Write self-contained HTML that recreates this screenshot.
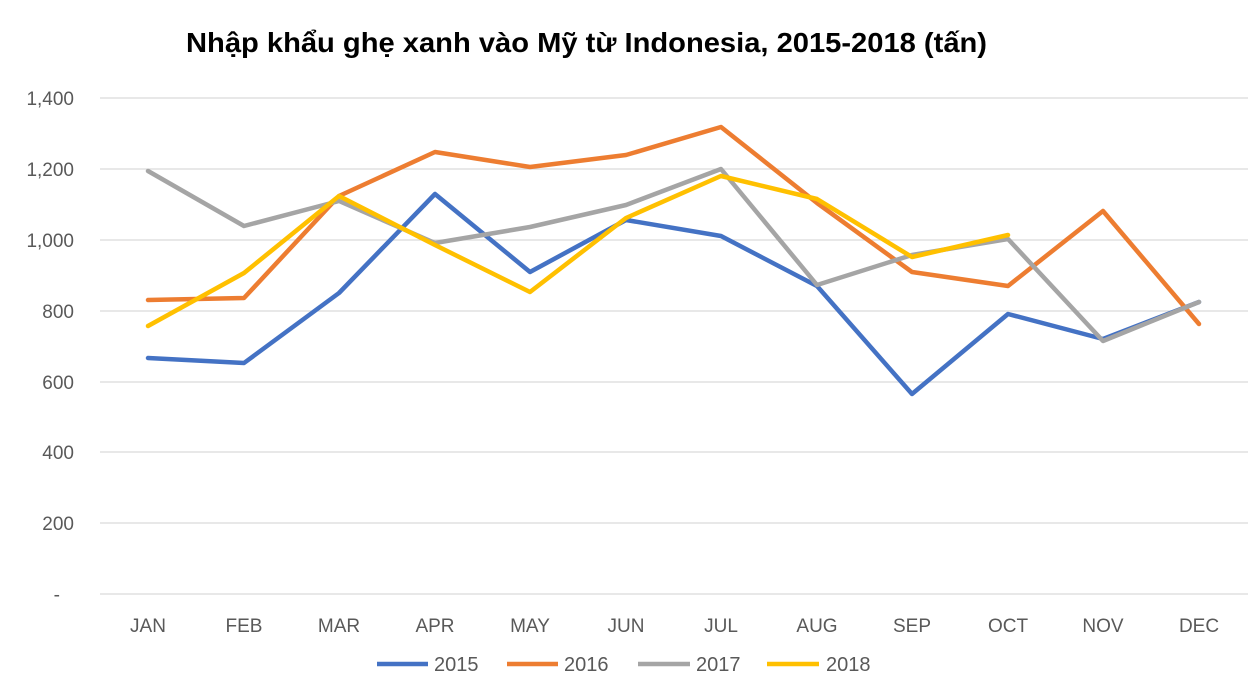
<!DOCTYPE html>
<html><head><meta charset="utf-8"><style>
html,body{margin:0;padding:0;background:#fff;}
svg{display:block;font-family:"Liberation Sans",Arial,sans-serif;}
</style></head><body>
<svg width="1248" height="684" viewBox="0 0 1248 684" xmlns="http://www.w3.org/2000/svg">
<text x="186" y="52" font-size="28" font-weight="bold" fill="#000" textLength="801" lengthAdjust="spacingAndGlyphs">Nhập khẩu ghẹ xanh vào Mỹ từ Indonesia, 2015-2018 (tấn)</text>
<g stroke="#d9d9d9" stroke-width="1.3">
<line x1="100" y1="98" x2="1248" y2="98"/><line x1="100" y1="169" x2="1248" y2="169"/>
<line x1="100" y1="240" x2="1248" y2="240"/><line x1="100" y1="311" x2="1248" y2="311"/>
<line x1="100" y1="382" x2="1248" y2="382"/><line x1="100" y1="452" x2="1248" y2="452"/>
<line x1="100" y1="523" x2="1248" y2="523"/><line x1="100" y1="594" x2="1248" y2="594"/>
</g>
<g font-size="19" fill="#595959" text-anchor="end">
<text x="74" y="105">1,400</text><text x="74" y="176">1,200</text><text x="74" y="247">1,000</text>
<text x="74" y="318">800</text><text x="74" y="389">600</text><text x="74" y="459">400</text>
<text x="74" y="530">200</text><text x="60" y="601">-</text>
</g>
<g font-size="19" fill="#595959" text-anchor="middle">
<text x="148" y="632">JAN</text><text x="244" y="632">FEB</text><text x="339" y="632">MAR</text>
<text x="435" y="632">APR</text><text x="530" y="632">MAY</text><text x="626" y="632">JUN</text>
<text x="721" y="632">JUL</text><text x="817" y="632">AUG</text><text x="912" y="632">SEP</text>
<text x="1008" y="632">OCT</text><text x="1103" y="632">NOV</text><text x="1199" y="632">DEC</text>
</g>
<g fill="none" stroke-width="4.5" stroke-linejoin="round" stroke-linecap="round">
<polyline stroke="#4472C4" points="148,358 244,363 339,293 435,194 530,272 626,220 721,236 817,286 912,394 1008,314 1103,339 1199,302"/>
<polyline stroke="#ED7D31" points="148,300 244,298 339,196 435,152 530,167 626,155 721,127 817,203 912,272 1008,286 1103,211 1199,324"/>
<polyline stroke="#A5A5A5" points="148,171 244,226 339,201 435,243 530,227 626,205 721,169 817,285 912,255 1008,239 1103,341 1199,302"/>
<polyline stroke="#FFC000" points="148,326 244,273 339,196 435,245 530,292 626,218 721,176 817,199 912,257 1008,235"/>
</g>
<g stroke-width="4.5">
<line x1="377" y1="664" x2="428" y2="664" stroke="#4472C4"/>
<line x1="507" y1="664" x2="558" y2="664" stroke="#ED7D31"/>
<line x1="638" y1="664" x2="690" y2="664" stroke="#A5A5A5"/>
<line x1="767" y1="664" x2="819" y2="664" stroke="#FFC000"/>
</g>
<g font-size="20" fill="#595959">
<text x="434" y="671">2015</text><text x="564" y="671">2016</text>
<text x="696" y="671">2017</text><text x="826" y="671">2018</text>
</g>
</svg>
</body></html>
